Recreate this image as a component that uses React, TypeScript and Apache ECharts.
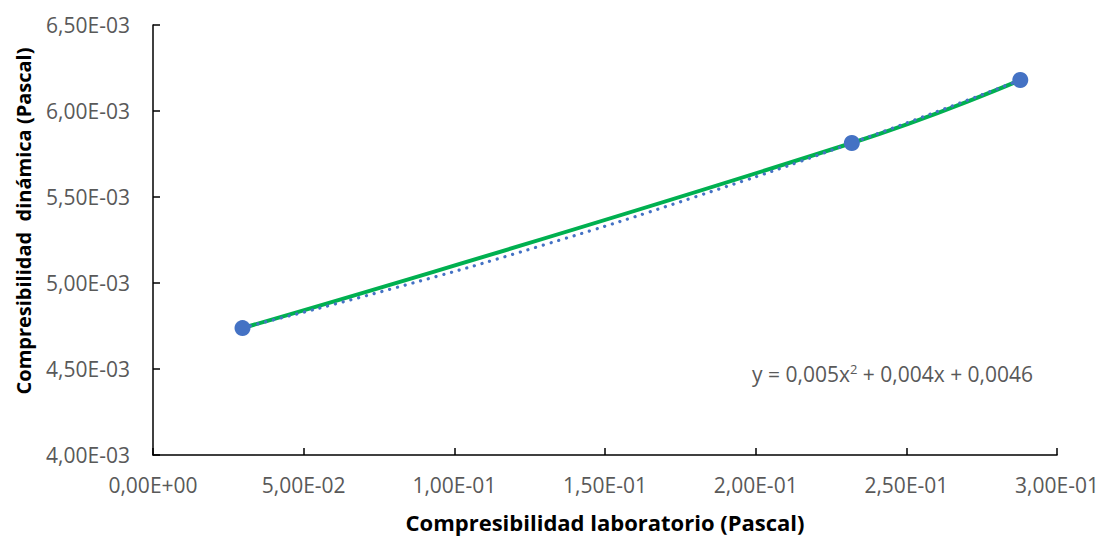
import React, { useEffect, useRef } from "react";
import * as echarts from "echarts";

const labX = [0.0297, 0.2319, 0.2878];
const dynY = [0.004738, 0.005814, 0.00618];

// Polynomial trendline (dotted)
const trendX = [0.0297, 0.08, 0.13, 0.18, 0.23, 0.2878];
const trendY = [0.00474, 0.00497, 0.005223, 0.005501, 0.005802, 0.00618];

const xTitle = "Compresibilidad laboratorio (Pascal)";
const yTitle = "Compresibilidad  dinámica (Pascal)";
const equation = "y = 0,005x{sup|2} + 0,004x + 0,0046";

const FONT = "'Open Sans', Lato, sans-serif";

function fmtExp(v: number): string {
  if (v === 0) return "0,00E+00";
  const s = v.toExponential(2);
  const [m, e] = s.split("e");
  const n = parseInt(e, 10);
  const sign = n < 0 ? "-" : "+";
  const abs = Math.abs(n).toString().padStart(2, "0");
  return m.replace(".", ",") + "E" + sign + abs;
}

export default function App() {
  const ref = useRef<HTMLDivElement>(null);
  useEffect(() => {
    if (!ref.current) return;
    const chart = echarts.init(ref.current, null, { renderer: "svg" });
    const pts = labX.map((x, i) => [x, dynY[i]]);
    const trend = trendX.map((x, i) => [x, trendY[i]]);
    chart.setOption({
      animation: false,
      backgroundColor: "#ffffff",
      grid: { left: 153, right: 41, top: 25, bottom: 83, containLabel: false },
      xAxis: {
        type: "value",
        min: 0,
        max: 0.3,
        interval: 0.05,
        name: xTitle,
        nameLocation: "middle",
        nameGap: 56,
        nameTextStyle: { fontFamily: FONT, fontSize: 22, fontWeight: "bold", color: "#000" },
        axisLine: { show: true, onZero: false, lineStyle: { color: "#000", width: 1.5 } },
        axisTick: { show: true, inside: true, length: 7, lineStyle: { color: "#000", width: 1.5 } },
        splitLine: { show: false },
        axisLabel: {
          margin: 19,
          fontFamily: FONT,
          fontSize: 21,
          color: "#595959",
          formatter: (v: number) => fmtExp(v),
        },
      },
      yAxis: {
        type: "value",
        min: 0.004,
        max: 0.0065,
        interval: 0.0005,
        axisLine: { show: true, onZero: false, lineStyle: { color: "#000", width: 1.5 } },
        axisTick: { show: true, inside: true, length: 7, lineStyle: { color: "#000", width: 1.5 } },
        splitLine: { show: false },
        axisLabel: {
          margin: 23,
          fontFamily: FONT,
          fontSize: 21,
          color: "#595959",
          formatter: (v: number) => fmtExp(v),
        },
      },
      series: [
        {
          type: "line",
          data: pts,
          smooth: 0.5,
          showSymbol: false,
          symbol: "none",
          lineStyle: { color: "#00B050", width: 4 },
          z: 2,
        },
        {
          type: "line",
          data: trend,
          smooth: true,
          showSymbol: false,
          symbol: "none",
          lineStyle: { color: "#4472C4", width: 3.2, type: [0.1, 7.9], cap: "round" },
          z: 3,
        },
        {
          type: "scatter",
          data: pts,
          symbol: "circle",
          symbolSize: 16,
          itemStyle: { color: "#4472C4", opacity: 1 },
          z: 4,
        },
      ],
      graphic: [
        {
          type: "text",
          x: 23,
          y: 221,
          rotation: Math.PI / 2,
          style: {
            text: yTitle,
            fontFamily: FONT,
            fontSize: 20,
            fontWeight: "bold",
            fill: "#000",
            align: "center",
            verticalAlign: "middle",
          },
        },
        {
          type: "text",
          x: 752,
          y: 374,
          style: {
            text: equation,
            fontFamily: FONT,
            fontSize: 21,
            fill: "#595959",
            verticalAlign: "middle",
            rich: {
              sup: { fontSize: 13, verticalAlign: "top", fill: "#595959", fontFamily: FONT, padding: [0, 0, 10, 0] },
            },
          },
        },
      ],
    });
    return () => chart.dispose();
  }, []);
  return (
    <div
      ref={ref}
      style={{ width: 1102, height: 538, position: "absolute", left: 0, top: 0 }}
    />
  );
}
